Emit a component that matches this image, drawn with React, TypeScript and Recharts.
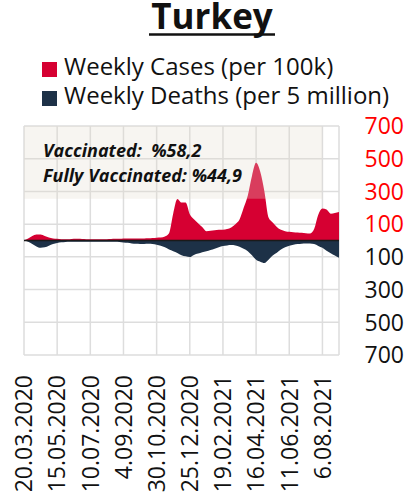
import React from 'react';
import { AreaChart, Area, XAxis, YAxis, CartesianGrid, ReferenceLine, ReferenceArea } from 'recharts';

const weeks = [
  '20.03.2020', '27.03.2020', '3.04.2020', '10.04.2020', '17.04.2020', '24.04.2020', '1.05.2020', '8.05.2020',
  '15.05.2020', '22.05.2020', '29.05.2020', '5.06.2020', '12.06.2020', '19.06.2020', '26.06.2020', '3.07.2020',
  '10.07.2020', '17.07.2020', '24.07.2020', '31.07.2020', '7.08.2020', '14.08.2020', '21.08.2020', '28.08.2020',
  '4.09.2020', '11.09.2020', '18.09.2020', '25.09.2020', '2.10.2020', '9.10.2020', '16.10.2020', '23.10.2020',
  '30.10.2020', '6.11.2020', '13.11.2020', '20.11.2020', '27.11.2020', '4.12.2020', '11.12.2020', '18.12.2020',
  '25.12.2020', '1.01.2021', '8.01.2021', '15.01.2021', '22.01.2021', '29.01.2021', '5.02.2021', '12.02.2021',
  '19.02.2021', '26.02.2021', '5.03.2021', '12.03.2021', '19.03.2021', '26.03.2021', '2.04.2021', '9.04.2021',
  '16.04.2021', '23.04.2021', '30.04.2021', '7.05.2021', '14.05.2021', '21.05.2021', '28.05.2021', '4.06.2021',
  '11.06.2021', '18.06.2021', '25.06.2021', '2.07.2021', '9.07.2021', '16.07.2021', '23.07.2021', '30.07.2021',
  '6.08.2021', '13.08.2021', '20.08.2021', '27.08.2021', '3.09.2021',
];

// Weekly cases per 100k
const cases = [
  2, 12, 28, 37, 36, 28, 18, 12,
  10, 8, 7, 8, 10, 10, 9, 8,
  8, 8, 8, 8, 8, 9, 10, 10,
  12, 12, 12, 12, 12, 12, 13, 15,
  17, 18, 25, 45, 165, 254, 232, 232,
  160, 130, 105, 82, 57, 60, 62, 65,
  66, 70, 80, 100, 128, 200, 275, 395,
  475, 420, 300, 140, 110, 83, 65, 57,
  53, 51, 49, 47, 45, 43, 70, 158,
  195, 189, 164, 168, 175,
];

// Weekly deaths per 5 million
const deaths = [
  0, 8, 22, 36, 44, 42, 32, 22,
  15, 11, 9, 8, 8, 8, 8, 8,
  7, 7, 7, 7, 7, 8, 8, 9,
  12, 14, 18, 20, 21, 21, 20, 21,
  26, 32, 42, 55, 65, 76, 90, 97,
  101, 88, 80, 72, 66, 58, 50, 42,
  34, 30, 28, 30, 38, 50, 65, 90,
  118, 130, 138, 118, 92, 75, 55, 42,
  32, 26, 22, 20, 18, 18, 22, 33,
  45, 63, 78, 92, 106,
];

const yTicks = [-700, -500, -300, -100, 100, 300, 500, 700];

const data = weeks.map((w, i) => ({ week: w, cases: cases[i], deaths: -deaths[i] }));

const FONT = '"Open Sans", sans-serif';
const RED = '#d60032';
const NAVY = '#1d3147';

const XTick = (props: any) => {
  const { x, y, payload } = props;
  return (
    <text x={x} y={y} transform={`rotate(-90, ${x}, ${y})`} textAnchor="end" dy="0.36em"
      fontSize={23} fontFamily={FONT} fill="#111">{payload.value}</text>
  );
};

const YTick = (props: any) => {
  const { x, y, payload } = props;
  const v = payload.value as number;
  return (
    <text x={x + 65} y={y} textAnchor="end" dy="0.36em" fontSize={23} fontFamily={FONT}
      fill={v > 0 ? '#ff0000' : '#111'}>{Math.abs(v)}</text>
  );
};

export default function App() {
  return (
    <div style={{ position: 'absolute', left: 0, top: 0, width: 405, height: 500, background: '#fff' }}>
      <AreaChart width={405} height={500} data={data} margin={{ top: 126, right: 0, bottom: 0, left: 24 }}>
        <CartesianGrid stroke="#dddddd" strokeWidth={1.5} />
        <XAxis dataKey="week" interval={7} axisLine={false} tickLine={false} tickSize={0} tickMargin={20}
          height={145} tick={<XTick />} />
        <YAxis orientation="right" type="number" domain={[-700, 700]} ticks={yTicks} width={66}
          axisLine={false} tickLine={false} tickSize={0} tickMargin={0} tick={<YTick />} />
        <Area type="monotone" dataKey="cases" fill={RED} fillOpacity={1} stroke="none" isAnimationActive={false} />
        <Area type="monotone" dataKey="deaths" fill={NAVY} fillOpacity={1} stroke="none" isAnimationActive={false} />
        <ReferenceLine y={0} stroke="#1a1a1a" strokeWidth={1.5} />
        <ReferenceArea x1={weeks[0]} x2={weeks[72]} y1={255} y2={700} fill="#e2dccb" fillOpacity={0.28} stroke="none" />
      </AreaChart>
      <svg width={405} height={500} style={{ position: 'absolute', left: 0, top: 0, pointerEvents: 'none' }}>
        <text x={212} y={29} textAnchor="middle" fontFamily={FONT} fontWeight={700} fontSize={35} fill="#111">Turkey</text>
        <line x1={149} x2={275} y1={34.5} y2={34.5} stroke="#111" strokeWidth={2.5} />
        <rect x={42} y={62} width={15} height={15} fill={RED} />
        <text x={64} y={75} fontFamily={FONT} fontSize={24} fill="#111">Weekly Cases (per 100k)</text>
        <rect x={42} y={91} width={15} height={15} fill={NAVY} />
        <text x={64} y={104} fontFamily={FONT} fontSize={24} fill="#111">Weekly Deaths (per 5 million)</text>
        <text x={43} y={157} fontFamily={FONT} fontSize={18} fontWeight={700} fontStyle="italic" fill="#111"
          style={{ whiteSpace: 'pre' }}>{'Vaccinated:  %58,2'}</text>
        <text x={43} y={182} fontFamily={FONT} fontSize={18} fontWeight={700} fontStyle="italic" fill="#111"
          style={{ whiteSpace: 'pre' }}>{'Fully Vaccinated: %44,9'}</text>
      </svg>
    </div>
  );
}
